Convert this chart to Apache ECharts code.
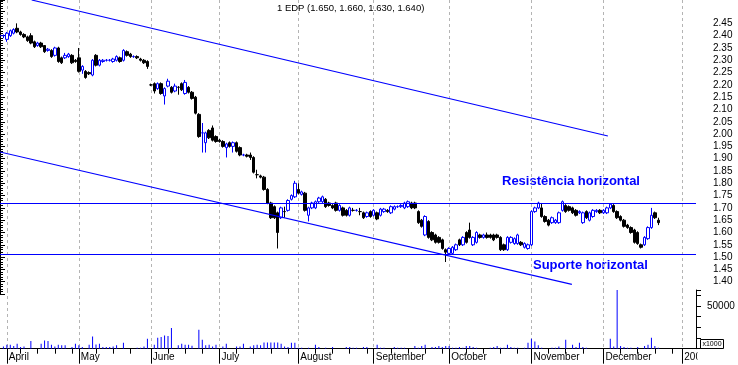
<!DOCTYPE html>
<html><head><meta charset="utf-8">
<script src="https://cdn.jsdelivr.net/npm/echarts@6/dist/echarts.min.js"></script>
<style>html,body{margin:0;padding:0;background:#fff}#c{width:738px;height:365px}</style>
</head><body><div id="c"></div>
<script>
// ---- data ----
const monthCounts = [2,21,21,20,23,22,22,24,21,23,5];
const monthKeys = ['1999-03','1999-04','1999-05','1999-06','1999-07','1999-08','1999-09','1999-10','1999-11','1999-12','2000-01'];
const monthLabels = ['', 'April','May','June','July','August','September','October','November','December','2000'];
const titleText = '1 EDP (1.650, 1.660, 1.630, 1.640)';
// [open, close, low, high]
const candles = [
[2.40,2.40,2.395,2.405],[2.40,2.40,2.39,2.405],[2.385,2.41,2.375,2.415],[2.40,2.42,2.395,2.425],[2.41,2.425,2.405,2.43],
[2.43,2.415,2.41,2.45],[2.415,2.405,2.40,2.42],[2.405,2.395,2.39,2.41],[2.395,2.38,2.375,2.40],[2.40,2.37,2.365,2.41],
[2.375,2.355,2.35,2.38],[2.36,2.37,2.355,2.375],[2.37,2.355,2.35,2.375],[2.36,2.335,2.33,2.36],[2.34,2.345,2.335,2.35],
[2.34,2.315,2.31,2.345],[2.32,2.35,2.315,2.355],[2.35,2.295,2.29,2.355],[2.31,2.29,2.285,2.315],[2.31,2.32,2.305,2.33],
[2.315,2.325,2.31,2.33],[2.32,2.29,2.285,2.325],[2.30,2.295,2.29,2.305],[2.31,2.255,2.25,2.35],[2.26,2.275,2.245,2.28],
[2.255,2.23,2.225,2.26],[2.25,2.245,2.24,2.255],[2.24,2.30,2.235,2.305],[2.32,2.28,2.275,2.325],[2.28,2.30,2.275,2.305],
[2.295,2.30,2.29,2.305],[2.30,2.30,2.295,2.305],[2.30,2.30,2.295,2.305],[2.295,2.305,2.29,2.31],[2.30,2.315,2.295,2.32],
[2.31,2.295,2.29,2.315],[2.30,2.34,2.295,2.345],[2.335,2.32,2.315,2.34],[2.325,2.315,2.31,2.33],[2.315,2.315,2.31,2.32],
[2.315,2.31,2.305,2.32],[2.305,2.30,2.295,2.31],[2.30,2.29,2.285,2.305],[2.295,2.275,2.265,2.30],
[2.20,2.20,2.195,2.205],[2.205,2.175,2.165,2.21],[2.185,2.205,2.18,2.21],[2.205,2.165,2.16,2.21],[2.155,2.185,2.12,2.19],
[2.195,2.215,2.19,2.225],[2.19,2.17,2.165,2.195],[2.175,2.195,2.17,2.205],[2.19,2.19,2.16,2.195],[2.205,2.18,2.175,2.21],
[2.165,2.21,2.16,2.22],[2.19,2.17,2.165,2.195],[2.17,2.145,2.14,2.175],[2.15,2.085,2.08,2.155],[2.08,1.99,1.985,2.085],
[2.005,2.005,1.925,2.045],[1.965,2.005,1.925,2.01],[2.015,1.985,1.98,2.02],[2.025,1.975,1.97,2.035],[1.99,1.97,1.965,1.995],
[1.975,1.97,1.965,1.98],[1.97,1.95,1.945,1.975],[1.945,1.96,1.905,1.965],[1.965,1.95,1.945,1.97],[1.95,1.965,1.925,1.97],
[1.965,1.93,1.925,1.97],[1.945,1.915,1.91,1.95],[1.915,1.915,1.91,1.92],[1.915,1.91,1.905,1.92],[1.915,1.905,1.895,1.925],
[1.905,1.845,1.84,1.91],[1.835,1.835,1.82,1.855],[1.83,1.825,1.82,1.835],[1.825,1.775,1.77,1.83],[1.775,1.72,1.715,1.78],
[1.72,1.66,1.655,1.725],[1.705,1.66,1.655,1.71],[1.68,1.60,1.535,1.685],[1.66,1.70,1.655,1.705],[1.685,1.685,1.66,1.705],
[1.69,1.73,1.685,1.735],[1.735,1.75,1.73,1.755],[1.745,1.80,1.74,1.81],[1.775,1.76,1.755,1.80],[1.755,1.765,1.75,1.77],
[1.76,1.69,1.685,1.765],[1.67,1.70,1.645,1.705],[1.70,1.72,1.695,1.725],[1.70,1.725,1.695,1.73],[1.725,1.74,1.72,1.745],
[1.725,1.745,1.72,1.75],[1.735,1.705,1.70,1.74],[1.72,1.71,1.705,1.725],[1.71,1.70,1.695,1.715],[1.72,1.69,1.685,1.725],
[1.69,1.71,1.685,1.715],[1.70,1.67,1.665,1.705],[1.69,1.67,1.665,1.695],[1.67,1.70,1.665,1.705],[1.69,1.69,1.685,1.70],
[1.69,1.69,1.685,1.695],[1.685,1.685,1.67,1.70],[1.68,1.66,1.655,1.685],[1.665,1.68,1.66,1.685],[1.685,1.665,1.66,1.69],
[1.67,1.69,1.665,1.695],[1.68,1.655,1.65,1.685],[1.67,1.695,1.665,1.70],[1.685,1.695,1.68,1.70],[1.69,1.685,1.68,1.695],
[1.68,1.705,1.675,1.71],[1.695,1.705,1.69,1.71],[1.705,1.705,1.70,1.71],[1.705,1.71,1.70,1.715],[1.70,1.72,1.695,1.725],
[1.705,1.725,1.70,1.73],[1.72,1.70,1.695,1.725],[1.72,1.70,1.695,1.725],[1.685,1.64,1.635,1.69],[1.65,1.625,1.62,1.655],
[1.59,1.665,1.585,1.67],[1.645,1.58,1.575,1.65],[1.60,1.57,1.565,1.605],[1.59,1.56,1.555,1.595],[1.58,1.56,1.555,1.585],
[1.57,1.535,1.53,1.575],[1.53,1.52,1.48,1.535],[1.515,1.535,1.51,1.54],[1.515,1.54,1.51,1.545],[1.53,1.55,1.525,1.555],
[1.57,1.55,1.545,1.575],[1.55,1.58,1.545,1.585],[1.60,1.56,1.555,1.605],[1.61,1.58,1.575,1.64],[1.55,1.58,1.545,1.585],
[1.56,1.60,1.555,1.605],[1.59,1.58,1.575,1.595],[1.58,1.59,1.575,1.595],[1.59,1.58,1.575,1.60],[1.59,1.58,1.575,1.595],
[1.59,1.57,1.565,1.595],[1.59,1.58,1.575,1.595],[1.58,1.53,1.525,1.585],[1.55,1.53,1.525,1.555],[1.53,1.58,1.525,1.585],
[1.56,1.58,1.555,1.585],[1.555,1.575,1.55,1.58],[1.555,1.59,1.55,1.595],[1.56,1.55,1.545,1.565],[1.54,1.555,1.535,1.56],
[1.535,1.55,1.53,1.555],[1.55,1.685,1.545,1.69],[1.685,1.70,1.68,1.705],[1.70,1.72,1.695,1.725],[1.70,1.665,1.66,1.72],
[1.665,1.645,1.64,1.67],[1.65,1.63,1.625,1.655],[1.64,1.66,1.635,1.665],[1.64,1.65,1.635,1.655],[1.64,1.68,1.635,1.685],
[1.69,1.725,1.685,1.73],[1.71,1.685,1.68,1.715],[1.705,1.69,1.685,1.71],[1.70,1.68,1.675,1.705],[1.69,1.67,1.665,1.695],
[1.68,1.685,1.675,1.69],[1.64,1.68,1.635,1.685],[1.685,1.66,1.655,1.69],[1.65,1.68,1.645,1.685],[1.665,1.69,1.66,1.695],
[1.685,1.69,1.68,1.695],[1.69,1.68,1.675,1.695],[1.68,1.69,1.675,1.695],[1.68,1.70,1.675,1.705],[1.70,1.715,1.695,1.72],
[1.71,1.685,1.68,1.715],[1.685,1.66,1.655,1.69],[1.665,1.65,1.645,1.67],[1.65,1.625,1.62,1.655],[1.63,1.62,1.615,1.635],
[1.62,1.60,1.595,1.625],[1.61,1.56,1.555,1.615],[1.60,1.555,1.55,1.605],[1.55,1.54,1.535,1.555],[1.55,1.58,1.545,1.585],
[1.575,1.62,1.57,1.625],[1.62,1.67,1.615,1.70],[1.68,1.66,1.655,1.685],[1.65,1.64,1.63,1.66]
];
const volume = [
0,2700,4700,4700,3200,5900,2000,2700,0,9000,
0,0,5900,9700,9000,4700,2700,4700,3900,3900,
0,2000,5900,3900,2000,0,4700,14400,5000,5900,
2000,2000,2000,2700,3900,0,7000,0,0,0,
1200,1200,2700,11700,0,4700,12900,13700,15600,14900,
24200,0,3900,5900,4700,4700,3500,0,22200,10500,
3900,4700,2700,4700,0,2700,5900,0,0,2700,
2700,5900,0,2700,3900,4700,3900,7400,7400,7400,
7400,7400,5900,2700,2000,7000,7000,1200,1200,0,
1200,0,4700,2000,0,1200,0,2000,0,0,
0,2000,2000,1200,1200,0,2000,2000,0,0,
4700,1200,1200,0,0,2000,1200,1200,1200,0,
0,3200,1200,3200,4700,0,2000,2000,3200,2000,
3200,3200,1200,1200,2000,1200,3200,3200,2000,1200,
0,0,0,1200,2000,3200,1200,1200,4700,2000,
1200,1200,0,1200,7000,11700,8500,3900,1200,0,
0,1200,1200,2700,0,10500,0,4700,2000,7000,
2000,1200,0,0,0,0,0,0,11700,2700,
69000,3200,2000,1200,1200,0,2000,0,3200,4700,
12900,3200,1200
];
const resistance = 1.72;
const support = 1.51;
const upperChannel = [[9.25, 2.545], [177.3, 1.992]];
const lowerChannel = [[0, 1.927], [166.8, 1.389]];
const priceLabelRange = [1.40, 2.45];
const volumeLabelValue = 50000;

// ---- derived ----
const categories = [];
const monthStarts = [];
monthCounts.forEach((n, m) => {
  monthStarts.push(categories.length);
  for (let k = 1; k <= n; k++) categories.push(monthKeys[m] + ' #' + k);
});
const N = categories.length;
const labelAt = {};
monthStarts.forEach((s, m) => { if (monthLabels[m]) labelAt[s] = monthLabels[m]; });
const weekTicks = new Set();
for (let m = 1; m < monthStarts.length; m++) {
  const s = monthStarts[m], e = (m + 1 < monthStarts.length) ? monthStarts[m + 1] : N;
  const first = (m === 1) ? 4 : 5;
  for (let t = s + first; t <= e - 2; t += 5) weekTicks.add(t);
}
const isMonth = (i) => labelAt[i] !== undefined;
const candleData = categories.map((c, i) => candles[i] ? candles[i] : '-');
const volData = categories.map((c, i) => (volume[i] !== undefined) ? volume[i] : '-');

const FONT = "'Liberation Sans', Arial, sans-serif";
const chart = echarts.init(document.getElementById('c'), null, {renderer: 'canvas'});
const gridSplit = {show: true, interval: (i) => isMonth(i), lineStyle: {color: '#b4b4b4', width: 1, type: [3, 3]}};
chart.setOption({
  animation: false,
  backgroundColor: '#ffffff',
  title: {text: titleText, left: 277, top: 3, padding: 0,
    textStyle: {fontFamily: FONT, fontSize: 9.5, fontWeight: 'normal', color: '#000'}},
  grid: [
    {left: 0, right: 42, top: 0, height: 294},
    {left: 0, right: 42, top: 290, height: 58.7}
  ],
  xAxis: [
    {type: 'category', gridIndex: 0, data: categories, boundaryGap: false,
      axisLine: {show: false}, axisTick: {show: false}, axisLabel: {show: false}, splitLine: gridSplit},
    {type: 'value', gridIndex: 0, min: 0, max: N - 1, show: false},
    {type: 'category', gridIndex: 1, position: 'bottom', data: categories, boundaryGap: false,
      axisLine: {show: true, lineStyle: {color: '#000', width: 1}},
      axisTick: {show: true, interval: (i) => isMonth(i), length: 15, lineStyle: {color: '#000'}},
      axisLabel: {show: true, interval: (i) => isMonth(i), formatter: (v, i) => labelAt[i] || '',
        align: 'left', padding: [0, 0, 0, 2], margin: 3.5, fontFamily: FONT, fontSize: 10, color: '#000'},
      splitLine: gridSplit},
    {type: 'category', gridIndex: 1, position: 'bottom', offset: 0, data: categories, boundaryGap: false,
      axisLine: {show: false},
      axisTick: {show: true, interval: (i) => weekTicks.has(i), length: 5, lineStyle: {color: '#000'}},
      axisLabel: {show: false}, splitLine: {show: false}}
  ],
  yAxis: [
    {type: 'value', gridIndex: 0, position: 'right', min: 1.35, max: 2.545, interval: 0.05,
      axisLine: {show: true, lineStyle: {color: '#000'}},
      axisTick: {show: true, length: 5, lineStyle: {color: '#000'}},
      minorTick: {show: true, splitNumber: 5, length: 3, lineStyle: {color: '#000'}},
      splitLine: {show: false},
      axisLabel: {margin: 17, fontFamily: FONT, fontSize: 10, color: '#000',
        formatter: (v) => (v >= priceLabelRange[0] - 1e-6 && v <= priceLabelRange[1] + 1e-6) ? v.toFixed(2) : ''}},
    {type: 'value', gridIndex: 1, position: 'right', min: 0, max: 68750, interval: 12500,
      axisLine: {show: true, lineStyle: {color: '#000'}},
      axisTick: {show: true, length: 5, lineStyle: {color: '#000'}},
      splitLine: {show: false},
      axisLabel: {margin: 11, fontFamily: FONT, fontSize: 10, color: '#000',
        formatter: (v) => Math.abs(v - volumeLabelValue) < 1 ? String(volumeLabelValue) : ''}}
  ],
  series: [
    {type: 'candlestick', xAxisIndex: 0, yAxisIndex: 0, data: candleData, barWidth: 3,
      itemStyle: {color: '#ffffff', color0: '#000000', borderColor: '#0000ff', borderColor0: '#000000', borderWidth: 1},
      markLine: {silent: true, symbol: 'none', label: {show: false},
        lineStyle: {color: '#0000ff', width: 1, type: 'solid'},
        data: [{yAxis: resistance}, {yAxis: support}]}},
    {type: 'line', xAxisIndex: 1, yAxisIndex: 0, data: upperChannel, symbol: 'none', silent: true,
      lineStyle: {color: '#0000ff', width: 1.1}},
    {type: 'line', xAxisIndex: 1, yAxisIndex: 0, data: lowerChannel, symbol: 'none', silent: true,
      lineStyle: {color: '#0000ff', width: 1.1}},
    {type: 'bar', xAxisIndex: 2, yAxisIndex: 1, data: volData, barWidth: 1,
      itemStyle: {color: '#0000ff'}}
  ],
  graphic: [
    {type: 'text', left: 502, top: 175, style: {text: 'Resistência horizontal', fill: '#0000ff',
      font: "bold 13px 'Liberation Sans', Arial, sans-serif"}},
    {type: 'text', left: 533, top: 259, style: {text: 'Suporte horizontal', fill: '#0000ff',
      font: "bold 13px 'Liberation Sans', Arial, sans-serif"}},
    {type: 'rect', shape: {x: 697.5, y: 350, width: 41, height: 15}, style: {fill: '#fff'}, z: 100},
    {type: 'rect', shape: {x: 700.5, y: 339.5, width: 23, height: 9}, style: {fill: '#fff', stroke: '#000', lineWidth: 1}, z: 100},
    {type: 'text', x: 712, y: 344.3, style: {text: 'x1000', fill: '#000', font: "7px 'Liberation Sans', Arial, sans-serif",
      textAlign: 'center', textVerticalAlign: 'middle'}, z: 101}
  ]
});
</script></body></html>
